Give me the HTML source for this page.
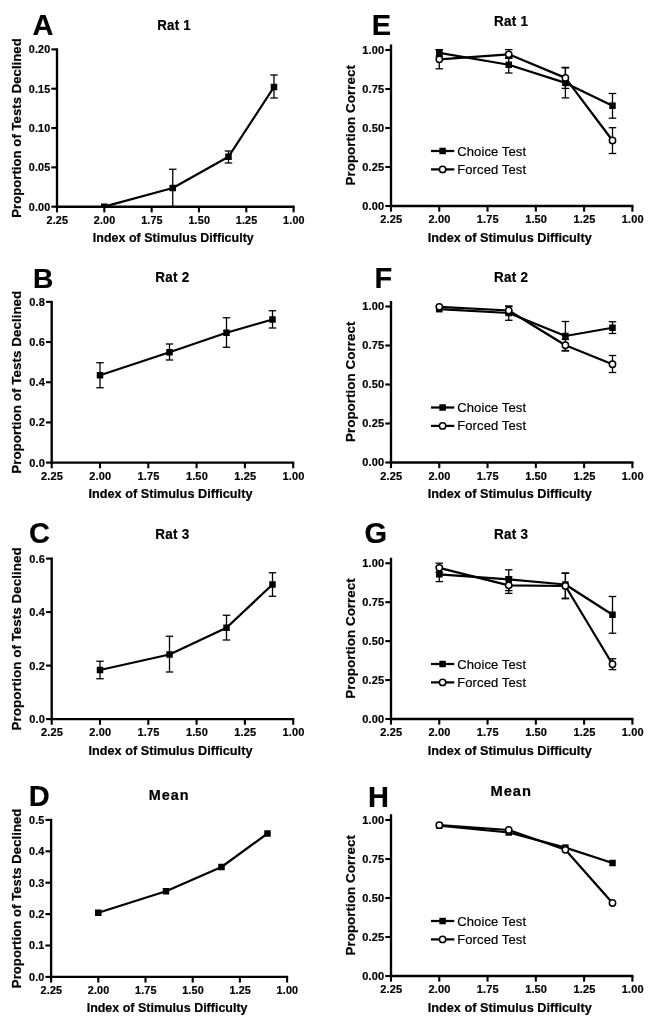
<!DOCTYPE html>
<html lang="en">
<head>
<meta charset="utf-8">
<title>Figure: proportion of tests declined and proportion correct</title>
<style>
html,body{margin:0;padding:0;background:#fff;}
body{width:656px;height:1024px;overflow:hidden;}
svg{display:block;filter:blur(0.4px);}
svg text{font-family:"Liberation Sans",sans-serif;fill:#000;stroke:#000;stroke-width:0.2px;stroke-linejoin:round;}
svg line,svg polyline,svg circle{stroke:#000;}
</style>
</head>
<body>
<svg width="656" height="1024" viewBox="0 0 656 1024">
<rect x="0" y="0" width="656" height="1024" fill="#fff" stroke="none"/>
<g id="panelA">
<g class="ax">
<line x1="57" y1="48.35" x2="57" y2="207.88" stroke-width="2.35" stroke-linecap="butt"/>
<line x1="55.83" y1="206.7" x2="294.65" y2="206.7" stroke-width="2.35" stroke-linecap="butt"/>
<line x1="51.33" y1="206.7" x2="57" y2="206.7" stroke-width="2.1" stroke-linecap="butt"/>
<text x="50.33" y="210.52" font-size="10.78" font-weight="bold" text-anchor="end" letter-spacing="0.15">0.00</text>
<line x1="51.33" y1="167.38" x2="57" y2="167.38" stroke-width="2.1" stroke-linecap="butt"/>
<text x="50.33" y="171.2" font-size="10.78" font-weight="bold" text-anchor="end" letter-spacing="0.15">0.05</text>
<line x1="51.33" y1="128.05" x2="57" y2="128.05" stroke-width="2.1" stroke-linecap="butt"/>
<text x="50.33" y="131.87" font-size="10.78" font-weight="bold" text-anchor="end" letter-spacing="0.15">0.10</text>
<line x1="51.33" y1="88.72" x2="57" y2="88.72" stroke-width="2.1" stroke-linecap="butt"/>
<text x="50.33" y="92.55" font-size="10.78" font-weight="bold" text-anchor="end" letter-spacing="0.15">0.15</text>
<line x1="51.33" y1="49.4" x2="57" y2="49.4" stroke-width="2.1" stroke-linecap="butt"/>
<text x="50.33" y="53.22" font-size="10.78" font-weight="bold" text-anchor="end" letter-spacing="0.15">0.20</text>
<line x1="57" y1="206.7" x2="57" y2="212.38" stroke-width="2.1" stroke-linecap="butt"/>
<text x="57.3" y="223.65" font-size="10.78" font-weight="bold" text-anchor="middle" letter-spacing="0.15">2.25</text>
<line x1="104.32" y1="206.7" x2="104.32" y2="212.38" stroke-width="2.1" stroke-linecap="butt"/>
<text x="104.62" y="223.65" font-size="10.78" font-weight="bold" text-anchor="middle" letter-spacing="0.15">2.00</text>
<line x1="151.64" y1="206.7" x2="151.64" y2="212.38" stroke-width="2.1" stroke-linecap="butt"/>
<text x="151.94" y="223.65" font-size="10.78" font-weight="bold" text-anchor="middle" letter-spacing="0.15">1.75</text>
<line x1="198.96" y1="206.7" x2="198.96" y2="212.38" stroke-width="2.1" stroke-linecap="butt"/>
<text x="199.26" y="223.65" font-size="10.78" font-weight="bold" text-anchor="middle" letter-spacing="0.15">1.50</text>
<line x1="246.28" y1="206.7" x2="246.28" y2="212.38" stroke-width="2.1" stroke-linecap="butt"/>
<text x="246.58" y="223.65" font-size="10.78" font-weight="bold" text-anchor="middle" letter-spacing="0.15">1.25</text>
<line x1="293.6" y1="206.7" x2="293.6" y2="212.38" stroke-width="2.1" stroke-linecap="butt"/>
<text x="293.9" y="223.65" font-size="10.78" font-weight="bold" text-anchor="middle" letter-spacing="0.15">1.00</text>
</g>
<text x="173.3" y="241.59" font-size="12.45" font-weight="bold" text-anchor="middle" letter-spacing="0.02">Index of Stimulus Difficulty</text>
<text x="20.9" y="128.05" font-size="13.13" font-weight="bold" text-anchor="middle" transform="rotate(-90 20.9 128.05)" letter-spacing="0.04">Proportion of Tests Declined</text>
<text transform="translate(174 30.12) scale(0.920 1)" font-size="14.41" font-weight="bold" text-anchor="middle" letter-spacing="0.25">Rat 1</text>
<text x="32.6" y="35.2" font-size="29" font-weight="bold" text-anchor="start" stroke="none">A</text>
<line x1="172.75" y1="169.25" x2="172.75" y2="206.7" stroke-width="1.3" stroke-linecap="butt"/>
<line x1="169" y1="169.25" x2="176.5" y2="169.25" stroke-width="1.3" stroke-linecap="butt"/>
<line x1="228.5" y1="151" x2="228.5" y2="163" stroke-width="1.3" stroke-linecap="butt"/>
<line x1="224.75" y1="151" x2="232.25" y2="151" stroke-width="1.3" stroke-linecap="butt"/>
<line x1="224.75" y1="163" x2="232.25" y2="163" stroke-width="1.3" stroke-linecap="butt"/>
<line x1="274" y1="75" x2="274" y2="98" stroke-width="1.3" stroke-linecap="butt"/>
<line x1="270.25" y1="75" x2="277.75" y2="75" stroke-width="1.3" stroke-linecap="butt"/>
<line x1="270.25" y1="98" x2="277.75" y2="98" stroke-width="1.3" stroke-linecap="butt"/>
<polyline fill="none" stroke-width="2.25" stroke-linejoin="round" points="104.2,206.7 172.75,188 228.5,156.75 274,87"/>
<rect x="101" y="203.5" width="6.6" height="3.2" fill="#000" stroke="none"/>
<rect x="169.5" y="184.75" width="6.5" height="6.5" fill="#000" stroke="none"/>
<rect x="225.25" y="153.5" width="6.5" height="6.5" fill="#000" stroke="none"/>
<rect x="270.75" y="83.75" width="6.5" height="6.5" fill="#000" stroke="none"/>
</g>
<g id="panelB">
<g class="ax">
<line x1="51.7" y1="300.85" x2="51.7" y2="463.78" stroke-width="2.35" stroke-linecap="butt"/>
<line x1="50.53" y1="462.6" x2="294.25" y2="462.6" stroke-width="2.35" stroke-linecap="butt"/>
<line x1="46.03" y1="462.6" x2="51.7" y2="462.6" stroke-width="2.1" stroke-linecap="butt"/>
<text x="45.03" y="466.5" font-size="11" font-weight="bold" text-anchor="end" letter-spacing="0.15">0.0</text>
<line x1="46.03" y1="422.43" x2="51.7" y2="422.43" stroke-width="2.1" stroke-linecap="butt"/>
<text x="45.03" y="426.32" font-size="11" font-weight="bold" text-anchor="end" letter-spacing="0.15">0.2</text>
<line x1="46.03" y1="382.25" x2="51.7" y2="382.25" stroke-width="2.1" stroke-linecap="butt"/>
<text x="45.03" y="386.15" font-size="11" font-weight="bold" text-anchor="end" letter-spacing="0.15">0.4</text>
<line x1="46.03" y1="342.07" x2="51.7" y2="342.07" stroke-width="2.1" stroke-linecap="butt"/>
<text x="45.03" y="345.97" font-size="11" font-weight="bold" text-anchor="end" letter-spacing="0.15">0.6</text>
<line x1="46.03" y1="301.9" x2="51.7" y2="301.9" stroke-width="2.1" stroke-linecap="butt"/>
<text x="45.03" y="305.8" font-size="11" font-weight="bold" text-anchor="end" letter-spacing="0.15">0.8</text>
<line x1="51.7" y1="462.6" x2="51.7" y2="468.28" stroke-width="2.1" stroke-linecap="butt"/>
<text x="52" y="479.9" font-size="11" font-weight="bold" text-anchor="middle" letter-spacing="0.15">2.25</text>
<line x1="100" y1="462.6" x2="100" y2="468.28" stroke-width="2.1" stroke-linecap="butt"/>
<text x="100.3" y="479.9" font-size="11" font-weight="bold" text-anchor="middle" letter-spacing="0.15">2.00</text>
<line x1="148.3" y1="462.6" x2="148.3" y2="468.28" stroke-width="2.1" stroke-linecap="butt"/>
<text x="148.6" y="479.9" font-size="11" font-weight="bold" text-anchor="middle" letter-spacing="0.15">1.75</text>
<line x1="196.6" y1="462.6" x2="196.6" y2="468.28" stroke-width="2.1" stroke-linecap="butt"/>
<text x="196.9" y="479.9" font-size="11" font-weight="bold" text-anchor="middle" letter-spacing="0.15">1.50</text>
<line x1="244.9" y1="462.6" x2="244.9" y2="468.28" stroke-width="2.1" stroke-linecap="butt"/>
<text x="245.2" y="479.9" font-size="11" font-weight="bold" text-anchor="middle" letter-spacing="0.15">1.25</text>
<line x1="293.2" y1="462.6" x2="293.2" y2="468.28" stroke-width="2.1" stroke-linecap="butt"/>
<text x="293.5" y="479.9" font-size="11" font-weight="bold" text-anchor="middle" letter-spacing="0.15">1.00</text>
</g>
<text x="170.45" y="498.2" font-size="12.7" font-weight="bold" text-anchor="middle" letter-spacing="0.02">Index of Stimulus Difficulty</text>
<text x="20.9" y="382.25" font-size="13.4" font-weight="bold" text-anchor="middle" transform="rotate(-90 20.9 382.25)" letter-spacing="0.04">Proportion of Tests Declined</text>
<text transform="translate(172.45 282.25) scale(0.920 1)" font-size="14.7" font-weight="bold" text-anchor="middle" letter-spacing="0.25">Rat 2</text>
<text x="33" y="287.9" font-size="28.2" font-weight="bold" text-anchor="start" stroke="none">B</text>
<line x1="100" y1="362.75" x2="100" y2="387.75" stroke-width="1.3" stroke-linecap="butt"/>
<line x1="96.25" y1="362.75" x2="103.75" y2="362.75" stroke-width="1.3" stroke-linecap="butt"/>
<line x1="96.25" y1="387.75" x2="103.75" y2="387.75" stroke-width="1.3" stroke-linecap="butt"/>
<line x1="169.5" y1="344" x2="169.5" y2="360" stroke-width="1.3" stroke-linecap="butt"/>
<line x1="165.75" y1="344" x2="173.25" y2="344" stroke-width="1.3" stroke-linecap="butt"/>
<line x1="165.75" y1="360" x2="173.25" y2="360" stroke-width="1.3" stroke-linecap="butt"/>
<line x1="226.5" y1="317.75" x2="226.5" y2="347.25" stroke-width="1.3" stroke-linecap="butt"/>
<line x1="222.75" y1="317.75" x2="230.25" y2="317.75" stroke-width="1.3" stroke-linecap="butt"/>
<line x1="222.75" y1="347.25" x2="230.25" y2="347.25" stroke-width="1.3" stroke-linecap="butt"/>
<line x1="272.5" y1="310.75" x2="272.5" y2="328" stroke-width="1.3" stroke-linecap="butt"/>
<line x1="268.75" y1="310.75" x2="276.25" y2="310.75" stroke-width="1.3" stroke-linecap="butt"/>
<line x1="268.75" y1="328" x2="276.25" y2="328" stroke-width="1.3" stroke-linecap="butt"/>
<polyline fill="none" stroke-width="2.25" stroke-linejoin="round" points="100,375.25 169.5,352.25 226.5,332.75 272.5,319.5"/>
<rect x="96.75" y="372" width="6.5" height="6.5" fill="#000" stroke="none"/>
<rect x="166.25" y="349" width="6.5" height="6.5" fill="#000" stroke="none"/>
<rect x="223.25" y="329.5" width="6.5" height="6.5" fill="#000" stroke="none"/>
<rect x="269.25" y="316.25" width="6.5" height="6.5" fill="#000" stroke="none"/>
</g>
<g id="panelC">
<g class="ax">
<line x1="51.7" y1="557.55" x2="51.7" y2="720.27" stroke-width="2.35" stroke-linecap="butt"/>
<line x1="50.53" y1="719.1" x2="294.25" y2="719.1" stroke-width="2.35" stroke-linecap="butt"/>
<line x1="46.03" y1="719.1" x2="51.7" y2="719.1" stroke-width="2.1" stroke-linecap="butt"/>
<text x="45.03" y="723" font-size="11" font-weight="bold" text-anchor="end" letter-spacing="0.15">0.0</text>
<line x1="46.03" y1="665.6" x2="51.7" y2="665.6" stroke-width="2.1" stroke-linecap="butt"/>
<text x="45.03" y="669.5" font-size="11" font-weight="bold" text-anchor="end" letter-spacing="0.15">0.2</text>
<line x1="46.03" y1="612.1" x2="51.7" y2="612.1" stroke-width="2.1" stroke-linecap="butt"/>
<text x="45.03" y="616" font-size="11" font-weight="bold" text-anchor="end" letter-spacing="0.15">0.4</text>
<line x1="46.03" y1="558.6" x2="51.7" y2="558.6" stroke-width="2.1" stroke-linecap="butt"/>
<text x="45.03" y="562.5" font-size="11" font-weight="bold" text-anchor="end" letter-spacing="0.15">0.6</text>
<line x1="51.7" y1="719.1" x2="51.7" y2="724.77" stroke-width="2.1" stroke-linecap="butt"/>
<text x="52" y="736.4" font-size="11" font-weight="bold" text-anchor="middle" letter-spacing="0.15">2.25</text>
<line x1="100" y1="719.1" x2="100" y2="724.77" stroke-width="2.1" stroke-linecap="butt"/>
<text x="100.3" y="736.4" font-size="11" font-weight="bold" text-anchor="middle" letter-spacing="0.15">2.00</text>
<line x1="148.3" y1="719.1" x2="148.3" y2="724.77" stroke-width="2.1" stroke-linecap="butt"/>
<text x="148.6" y="736.4" font-size="11" font-weight="bold" text-anchor="middle" letter-spacing="0.15">1.75</text>
<line x1="196.6" y1="719.1" x2="196.6" y2="724.77" stroke-width="2.1" stroke-linecap="butt"/>
<text x="196.9" y="736.4" font-size="11" font-weight="bold" text-anchor="middle" letter-spacing="0.15">1.50</text>
<line x1="244.9" y1="719.1" x2="244.9" y2="724.77" stroke-width="2.1" stroke-linecap="butt"/>
<text x="245.2" y="736.4" font-size="11" font-weight="bold" text-anchor="middle" letter-spacing="0.15">1.25</text>
<line x1="293.2" y1="719.1" x2="293.2" y2="724.77" stroke-width="2.1" stroke-linecap="butt"/>
<text x="293.5" y="736.4" font-size="11" font-weight="bold" text-anchor="middle" letter-spacing="0.15">1.00</text>
</g>
<text x="170.45" y="754.7" font-size="12.7" font-weight="bold" text-anchor="middle" letter-spacing="0.02">Index of Stimulus Difficulty</text>
<text x="20.9" y="638.85" font-size="13.4" font-weight="bold" text-anchor="middle" transform="rotate(-90 20.9 638.85)" letter-spacing="0.04">Proportion of Tests Declined</text>
<text transform="translate(172.45 538.95) scale(0.920 1)" font-size="14.7" font-weight="bold" text-anchor="middle" letter-spacing="0.25">Rat 3</text>
<text x="29" y="543" font-size="29" font-weight="bold" text-anchor="start" stroke="none">C</text>
<line x1="100" y1="661.25" x2="100" y2="678.75" stroke-width="1.3" stroke-linecap="butt"/>
<line x1="96.25" y1="661.25" x2="103.75" y2="661.25" stroke-width="1.3" stroke-linecap="butt"/>
<line x1="96.25" y1="678.75" x2="103.75" y2="678.75" stroke-width="1.3" stroke-linecap="butt"/>
<line x1="169.5" y1="636.25" x2="169.5" y2="672" stroke-width="1.3" stroke-linecap="butt"/>
<line x1="165.75" y1="636.25" x2="173.25" y2="636.25" stroke-width="1.3" stroke-linecap="butt"/>
<line x1="165.75" y1="672" x2="173.25" y2="672" stroke-width="1.3" stroke-linecap="butt"/>
<line x1="226.5" y1="615.25" x2="226.5" y2="640" stroke-width="1.3" stroke-linecap="butt"/>
<line x1="222.75" y1="615.25" x2="230.25" y2="615.25" stroke-width="1.3" stroke-linecap="butt"/>
<line x1="222.75" y1="640" x2="230.25" y2="640" stroke-width="1.3" stroke-linecap="butt"/>
<line x1="272.5" y1="572.75" x2="272.5" y2="596.25" stroke-width="1.3" stroke-linecap="butt"/>
<line x1="268.75" y1="572.75" x2="276.25" y2="572.75" stroke-width="1.3" stroke-linecap="butt"/>
<line x1="268.75" y1="596.25" x2="276.25" y2="596.25" stroke-width="1.3" stroke-linecap="butt"/>
<polyline fill="none" stroke-width="2.25" stroke-linejoin="round" points="100,670 169.5,654.5 226.5,627.75 272.5,584.5"/>
<rect x="96.75" y="666.75" width="6.5" height="6.5" fill="#000" stroke="none"/>
<rect x="166.25" y="651.25" width="6.5" height="6.5" fill="#000" stroke="none"/>
<rect x="223.25" y="624.5" width="6.5" height="6.5" fill="#000" stroke="none"/>
<rect x="269.25" y="581.25" width="6.5" height="6.5" fill="#000" stroke="none"/>
</g>
<g id="panelD">
<g class="ax">
<line x1="51.1" y1="818.85" x2="51.1" y2="978.07" stroke-width="2.35" stroke-linecap="butt"/>
<line x1="49.93" y1="976.9" x2="288.15" y2="976.9" stroke-width="2.35" stroke-linecap="butt"/>
<line x1="45.43" y1="976.9" x2="51.1" y2="976.9" stroke-width="2.1" stroke-linecap="butt"/>
<text x="44.43" y="980.72" font-size="10.78" font-weight="bold" text-anchor="end" letter-spacing="0.15">0.0</text>
<line x1="45.43" y1="945.5" x2="51.1" y2="945.5" stroke-width="2.1" stroke-linecap="butt"/>
<text x="44.43" y="949.32" font-size="10.78" font-weight="bold" text-anchor="end" letter-spacing="0.15">0.1</text>
<line x1="45.43" y1="914.1" x2="51.1" y2="914.1" stroke-width="2.1" stroke-linecap="butt"/>
<text x="44.43" y="917.92" font-size="10.78" font-weight="bold" text-anchor="end" letter-spacing="0.15">0.2</text>
<line x1="45.43" y1="882.7" x2="51.1" y2="882.7" stroke-width="2.1" stroke-linecap="butt"/>
<text x="44.43" y="886.52" font-size="10.78" font-weight="bold" text-anchor="end" letter-spacing="0.15">0.3</text>
<line x1="45.43" y1="851.3" x2="51.1" y2="851.3" stroke-width="2.1" stroke-linecap="butt"/>
<text x="44.43" y="855.12" font-size="10.78" font-weight="bold" text-anchor="end" letter-spacing="0.15">0.4</text>
<line x1="45.43" y1="819.9" x2="51.1" y2="819.9" stroke-width="2.1" stroke-linecap="butt"/>
<text x="44.43" y="823.72" font-size="10.78" font-weight="bold" text-anchor="end" letter-spacing="0.15">0.5</text>
<line x1="51.1" y1="976.9" x2="51.1" y2="982.57" stroke-width="2.1" stroke-linecap="butt"/>
<text x="51.4" y="993.85" font-size="10.78" font-weight="bold" text-anchor="middle" letter-spacing="0.15">2.25</text>
<line x1="98.3" y1="976.9" x2="98.3" y2="982.57" stroke-width="2.1" stroke-linecap="butt"/>
<text x="98.6" y="993.85" font-size="10.78" font-weight="bold" text-anchor="middle" letter-spacing="0.15">2.00</text>
<line x1="145.5" y1="976.9" x2="145.5" y2="982.57" stroke-width="2.1" stroke-linecap="butt"/>
<text x="145.8" y="993.85" font-size="10.78" font-weight="bold" text-anchor="middle" letter-spacing="0.15">1.75</text>
<line x1="192.7" y1="976.9" x2="192.7" y2="982.57" stroke-width="2.1" stroke-linecap="butt"/>
<text x="193" y="993.85" font-size="10.78" font-weight="bold" text-anchor="middle" letter-spacing="0.15">1.50</text>
<line x1="239.9" y1="976.9" x2="239.9" y2="982.57" stroke-width="2.1" stroke-linecap="butt"/>
<text x="240.2" y="993.85" font-size="10.78" font-weight="bold" text-anchor="middle" letter-spacing="0.15">1.25</text>
<line x1="287.1" y1="976.9" x2="287.1" y2="982.57" stroke-width="2.1" stroke-linecap="butt"/>
<text x="287.4" y="993.85" font-size="10.78" font-weight="bold" text-anchor="middle" letter-spacing="0.15">1.00</text>
</g>
<text x="167.1" y="1011.79" font-size="12.45" font-weight="bold" text-anchor="middle" letter-spacing="0.02">Index of Stimulus Difficulty</text>
<text x="20.9" y="898.4" font-size="13.13" font-weight="bold" text-anchor="middle" transform="rotate(-90 20.9 898.4)" letter-spacing="0.04">Proportion of Tests Declined</text>
<text x="169.1" y="799.82" font-size="14.41" font-weight="bold" text-anchor="middle" letter-spacing="0.95">Mean</text>
<text x="28.8" y="805.8" font-size="29" font-weight="bold" text-anchor="start" stroke="none">D</text>
<polyline fill="none" stroke-width="2.25" stroke-linejoin="round" points="98.25,912.75 166,891.25 221.5,867 267.5,833.5"/>
<rect x="95" y="909.5" width="6.5" height="6.5" fill="#000" stroke="none"/>
<rect x="162.75" y="888" width="6.5" height="6.5" fill="#000" stroke="none"/>
<rect x="218.25" y="863.75" width="6.5" height="6.5" fill="#000" stroke="none"/>
<rect x="264.25" y="830.25" width="6.5" height="6.5" fill="#000" stroke="none"/>
</g>
<g id="panelE">
<g class="ax">
<line x1="391" y1="44.5" x2="391" y2="207.18" stroke-width="2.35" stroke-linecap="butt"/>
<line x1="389.82" y1="206" x2="633.45" y2="206" stroke-width="2.35" stroke-linecap="butt"/>
<line x1="385.32" y1="206" x2="391" y2="206" stroke-width="2.1" stroke-linecap="butt"/>
<text x="384.32" y="209.9" font-size="11" font-weight="bold" text-anchor="end" letter-spacing="0.15">0.00</text>
<line x1="385.32" y1="167" x2="391" y2="167" stroke-width="2.1" stroke-linecap="butt"/>
<text x="384.32" y="170.9" font-size="11" font-weight="bold" text-anchor="end" letter-spacing="0.15">0.25</text>
<line x1="385.32" y1="128" x2="391" y2="128" stroke-width="2.1" stroke-linecap="butt"/>
<text x="384.32" y="131.9" font-size="11" font-weight="bold" text-anchor="end" letter-spacing="0.15">0.50</text>
<line x1="385.32" y1="89" x2="391" y2="89" stroke-width="2.1" stroke-linecap="butt"/>
<text x="384.32" y="92.9" font-size="11" font-weight="bold" text-anchor="end" letter-spacing="0.15">0.75</text>
<line x1="385.32" y1="50" x2="391" y2="50" stroke-width="2.1" stroke-linecap="butt"/>
<text x="384.32" y="53.9" font-size="11" font-weight="bold" text-anchor="end" letter-spacing="0.15">1.00</text>
<line x1="391" y1="206" x2="391" y2="211.68" stroke-width="2.1" stroke-linecap="butt"/>
<text x="391.3" y="223.3" font-size="11" font-weight="bold" text-anchor="middle" letter-spacing="0.15">2.25</text>
<line x1="439.28" y1="206" x2="439.28" y2="211.68" stroke-width="2.1" stroke-linecap="butt"/>
<text x="439.58" y="223.3" font-size="11" font-weight="bold" text-anchor="middle" letter-spacing="0.15">2.00</text>
<line x1="487.56" y1="206" x2="487.56" y2="211.68" stroke-width="2.1" stroke-linecap="butt"/>
<text x="487.86" y="223.3" font-size="11" font-weight="bold" text-anchor="middle" letter-spacing="0.15">1.75</text>
<line x1="535.84" y1="206" x2="535.84" y2="211.68" stroke-width="2.1" stroke-linecap="butt"/>
<text x="536.14" y="223.3" font-size="11" font-weight="bold" text-anchor="middle" letter-spacing="0.15">1.50</text>
<line x1="584.12" y1="206" x2="584.12" y2="211.68" stroke-width="2.1" stroke-linecap="butt"/>
<text x="584.42" y="223.3" font-size="11" font-weight="bold" text-anchor="middle" letter-spacing="0.15">1.25</text>
<line x1="632.4" y1="206" x2="632.4" y2="211.68" stroke-width="2.1" stroke-linecap="butt"/>
<text x="632.7" y="223.3" font-size="11" font-weight="bold" text-anchor="middle" letter-spacing="0.15">1.00</text>
</g>
<text x="509.7" y="241.6" font-size="12.7" font-weight="bold" text-anchor="middle" letter-spacing="0.02">Index of Stimulus Difficulty</text>
<text x="354.6" y="125.3" font-size="13.4" font-weight="bold" text-anchor="middle" transform="rotate(-90 354.6 125.3)" letter-spacing="0.04">Proportion Correct</text>
<text transform="translate(511.2 25.9) scale(0.920 1)" font-size="14.7" font-weight="bold" text-anchor="middle" letter-spacing="0.25">Rat 1</text>
<text x="371.8" y="35.2" font-size="29" font-weight="bold" text-anchor="start" stroke="none">E</text>
<line x1="431" y1="151" x2="454.3" y2="151" stroke-width="2.25" stroke-linecap="butt"/>
<rect x="439.35" y="147.75" width="6.5" height="6.5" fill="#000" stroke="none"/>
<text x="457.2" y="155.5" font-size="13" font-weight="normal" text-anchor="start" stroke="none" letter-spacing="0.12">Choice Test</text>
<line x1="431" y1="169.4" x2="454.3" y2="169.4" stroke-width="2.25" stroke-linecap="butt"/>
<circle cx="442.6" cy="169.4" r="3.15" fill="#fff" stroke-width="1.5"/>
<text x="457.2" y="173.9" font-size="13" font-weight="normal" text-anchor="start" stroke="none" letter-spacing="0.12">Forced Test</text>
<line x1="439.3" y1="49.6" x2="439.3" y2="56.2" stroke-width="1.3" stroke-linecap="butt"/>
<line x1="435.55" y1="49.6" x2="443.05" y2="49.6" stroke-width="1.3" stroke-linecap="butt"/>
<line x1="435.55" y1="56.2" x2="443.05" y2="56.2" stroke-width="1.3" stroke-linecap="butt"/>
<line x1="508.75" y1="57.5" x2="508.75" y2="73" stroke-width="1.3" stroke-linecap="butt"/>
<line x1="505" y1="57.5" x2="512.5" y2="57.5" stroke-width="1.3" stroke-linecap="butt"/>
<line x1="505" y1="73" x2="512.5" y2="73" stroke-width="1.3" stroke-linecap="butt"/>
<line x1="565.4" y1="67.9" x2="565.4" y2="97.9" stroke-width="1.3" stroke-linecap="butt"/>
<line x1="561.65" y1="67.9" x2="569.15" y2="67.9" stroke-width="1.3" stroke-linecap="butt"/>
<line x1="561.65" y1="97.9" x2="569.15" y2="97.9" stroke-width="1.3" stroke-linecap="butt"/>
<line x1="612.5" y1="93.5" x2="612.5" y2="118.2" stroke-width="1.3" stroke-linecap="butt"/>
<line x1="608.75" y1="93.5" x2="616.25" y2="93.5" stroke-width="1.3" stroke-linecap="butt"/>
<line x1="608.75" y1="118.2" x2="616.25" y2="118.2" stroke-width="1.3" stroke-linecap="butt"/>
<polyline fill="none" stroke-width="2.25" stroke-linejoin="round" points="439.3,52.9 508.75,64.75 565.4,82.9 612.5,105.7"/>
<rect x="436.05" y="49.65" width="6.5" height="6.5" fill="#000" stroke="none"/>
<rect x="505.5" y="61.5" width="6.5" height="6.5" fill="#000" stroke="none"/>
<rect x="562.15" y="79.65" width="6.5" height="6.5" fill="#000" stroke="none"/>
<rect x="609.25" y="102.45" width="6.5" height="6.5" fill="#000" stroke="none"/>
<line x1="439.3" y1="49.8" x2="439.3" y2="68.8" stroke-width="1.3" stroke-linecap="butt"/>
<line x1="435.55" y1="49.8" x2="443.05" y2="49.8" stroke-width="1.3" stroke-linecap="butt"/>
<line x1="435.55" y1="68.8" x2="443.05" y2="68.8" stroke-width="1.3" stroke-linecap="butt"/>
<line x1="508.75" y1="49.6" x2="508.75" y2="58.4" stroke-width="1.3" stroke-linecap="butt"/>
<line x1="505" y1="49.6" x2="512.5" y2="49.6" stroke-width="1.3" stroke-linecap="butt"/>
<line x1="505" y1="58.4" x2="512.5" y2="58.4" stroke-width="1.3" stroke-linecap="butt"/>
<line x1="565.4" y1="67.4" x2="565.4" y2="88.4" stroke-width="1.3" stroke-linecap="butt"/>
<line x1="561.65" y1="67.4" x2="569.15" y2="67.4" stroke-width="1.3" stroke-linecap="butt"/>
<line x1="561.65" y1="88.4" x2="569.15" y2="88.4" stroke-width="1.3" stroke-linecap="butt"/>
<line x1="612.5" y1="127.7" x2="612.5" y2="153.5" stroke-width="1.3" stroke-linecap="butt"/>
<line x1="608.75" y1="127.7" x2="616.25" y2="127.7" stroke-width="1.3" stroke-linecap="butt"/>
<line x1="608.75" y1="153.5" x2="616.25" y2="153.5" stroke-width="1.3" stroke-linecap="butt"/>
<polyline fill="none" stroke-width="2.25" stroke-linejoin="round" points="439.3,59.3 508.75,54.3 565.4,77.9 612.5,140.5"/>
<circle cx="439.3" cy="59.3" r="3.15" fill="#fff" stroke-width="1.5"/>
<circle cx="508.75" cy="54.3" r="3.15" fill="#fff" stroke-width="1.5"/>
<circle cx="565.4" cy="77.9" r="3.15" fill="#fff" stroke-width="1.5"/>
<circle cx="612.5" cy="140.5" r="3.15" fill="#fff" stroke-width="1.5"/>
</g>
<g id="panelF">
<g class="ax">
<line x1="391" y1="301" x2="391" y2="463.68" stroke-width="2.35" stroke-linecap="butt"/>
<line x1="389.82" y1="462.5" x2="633.45" y2="462.5" stroke-width="2.35" stroke-linecap="butt"/>
<line x1="385.32" y1="462.5" x2="391" y2="462.5" stroke-width="2.1" stroke-linecap="butt"/>
<text x="384.32" y="466.4" font-size="11" font-weight="bold" text-anchor="end" letter-spacing="0.15">0.00</text>
<line x1="385.32" y1="423.5" x2="391" y2="423.5" stroke-width="2.1" stroke-linecap="butt"/>
<text x="384.32" y="427.4" font-size="11" font-weight="bold" text-anchor="end" letter-spacing="0.15">0.25</text>
<line x1="385.32" y1="384.5" x2="391" y2="384.5" stroke-width="2.1" stroke-linecap="butt"/>
<text x="384.32" y="388.4" font-size="11" font-weight="bold" text-anchor="end" letter-spacing="0.15">0.50</text>
<line x1="385.32" y1="345.5" x2="391" y2="345.5" stroke-width="2.1" stroke-linecap="butt"/>
<text x="384.32" y="349.4" font-size="11" font-weight="bold" text-anchor="end" letter-spacing="0.15">0.75</text>
<line x1="385.32" y1="306.5" x2="391" y2="306.5" stroke-width="2.1" stroke-linecap="butt"/>
<text x="384.32" y="310.4" font-size="11" font-weight="bold" text-anchor="end" letter-spacing="0.15">1.00</text>
<line x1="391" y1="462.5" x2="391" y2="468.18" stroke-width="2.1" stroke-linecap="butt"/>
<text x="391.3" y="479.8" font-size="11" font-weight="bold" text-anchor="middle" letter-spacing="0.15">2.25</text>
<line x1="439.28" y1="462.5" x2="439.28" y2="468.18" stroke-width="2.1" stroke-linecap="butt"/>
<text x="439.58" y="479.8" font-size="11" font-weight="bold" text-anchor="middle" letter-spacing="0.15">2.00</text>
<line x1="487.56" y1="462.5" x2="487.56" y2="468.18" stroke-width="2.1" stroke-linecap="butt"/>
<text x="487.86" y="479.8" font-size="11" font-weight="bold" text-anchor="middle" letter-spacing="0.15">1.75</text>
<line x1="535.84" y1="462.5" x2="535.84" y2="468.18" stroke-width="2.1" stroke-linecap="butt"/>
<text x="536.14" y="479.8" font-size="11" font-weight="bold" text-anchor="middle" letter-spacing="0.15">1.50</text>
<line x1="584.12" y1="462.5" x2="584.12" y2="468.18" stroke-width="2.1" stroke-linecap="butt"/>
<text x="584.42" y="479.8" font-size="11" font-weight="bold" text-anchor="middle" letter-spacing="0.15">1.25</text>
<line x1="632.4" y1="462.5" x2="632.4" y2="468.18" stroke-width="2.1" stroke-linecap="butt"/>
<text x="632.7" y="479.8" font-size="11" font-weight="bold" text-anchor="middle" letter-spacing="0.15">1.00</text>
</g>
<text x="509.7" y="498.1" font-size="12.7" font-weight="bold" text-anchor="middle" letter-spacing="0.02">Index of Stimulus Difficulty</text>
<text x="354.6" y="381.8" font-size="13.4" font-weight="bold" text-anchor="middle" transform="rotate(-90 354.6 381.8)" letter-spacing="0.04">Proportion Correct</text>
<text transform="translate(511.2 282.4) scale(0.920 1)" font-size="14.7" font-weight="bold" text-anchor="middle" letter-spacing="0.25">Rat 2</text>
<text x="374.4" y="287.9" font-size="29" font-weight="bold" text-anchor="start" stroke="none">F</text>
<line x1="431" y1="407.5" x2="454.3" y2="407.5" stroke-width="2.25" stroke-linecap="butt"/>
<rect x="439.35" y="404.25" width="6.5" height="6.5" fill="#000" stroke="none"/>
<text x="457.2" y="412" font-size="13" font-weight="normal" text-anchor="start" stroke="none" letter-spacing="0.12">Choice Test</text>
<line x1="431" y1="425.9" x2="454.3" y2="425.9" stroke-width="2.25" stroke-linecap="butt"/>
<circle cx="442.6" cy="425.9" r="3.15" fill="#fff" stroke-width="1.5"/>
<text x="457.2" y="430.4" font-size="13" font-weight="normal" text-anchor="start" stroke="none" letter-spacing="0.12">Forced Test</text>
<line x1="508.75" y1="306" x2="508.75" y2="320.3" stroke-width="1.3" stroke-linecap="butt"/>
<line x1="505" y1="306" x2="512.5" y2="306" stroke-width="1.3" stroke-linecap="butt"/>
<line x1="505" y1="320.3" x2="512.5" y2="320.3" stroke-width="1.3" stroke-linecap="butt"/>
<line x1="565.4" y1="321.5" x2="565.4" y2="350.5" stroke-width="1.3" stroke-linecap="butt"/>
<line x1="561.65" y1="321.5" x2="569.15" y2="321.5" stroke-width="1.3" stroke-linecap="butt"/>
<line x1="561.65" y1="350.5" x2="569.15" y2="350.5" stroke-width="1.3" stroke-linecap="butt"/>
<line x1="612.5" y1="321.75" x2="612.5" y2="333.5" stroke-width="1.3" stroke-linecap="butt"/>
<line x1="608.75" y1="321.75" x2="616.25" y2="321.75" stroke-width="1.3" stroke-linecap="butt"/>
<line x1="608.75" y1="333.5" x2="616.25" y2="333.5" stroke-width="1.3" stroke-linecap="butt"/>
<polyline fill="none" stroke-width="2.25" stroke-linejoin="round" points="439.3,309.2 508.75,313 565.4,336 612.5,327.75"/>
<rect x="436.05" y="305.95" width="6.5" height="6.5" fill="#000" stroke="none"/>
<rect x="505.5" y="309.75" width="6.5" height="6.5" fill="#000" stroke="none"/>
<rect x="562.15" y="332.75" width="6.5" height="6.5" fill="#000" stroke="none"/>
<rect x="609.25" y="324.5" width="6.5" height="6.5" fill="#000" stroke="none"/>
<line x1="508.75" y1="306.5" x2="508.75" y2="314.5" stroke-width="1.3" stroke-linecap="butt"/>
<line x1="505" y1="306.5" x2="512.5" y2="306.5" stroke-width="1.3" stroke-linecap="butt"/>
<line x1="505" y1="314.5" x2="512.5" y2="314.5" stroke-width="1.3" stroke-linecap="butt"/>
<line x1="565.4" y1="339.5" x2="565.4" y2="351" stroke-width="1.3" stroke-linecap="butt"/>
<line x1="561.65" y1="339.5" x2="569.15" y2="339.5" stroke-width="1.3" stroke-linecap="butt"/>
<line x1="561.65" y1="351" x2="569.15" y2="351" stroke-width="1.3" stroke-linecap="butt"/>
<line x1="612.5" y1="355.5" x2="612.5" y2="372.5" stroke-width="1.3" stroke-linecap="butt"/>
<line x1="608.75" y1="355.5" x2="616.25" y2="355.5" stroke-width="1.3" stroke-linecap="butt"/>
<line x1="608.75" y1="372.5" x2="616.25" y2="372.5" stroke-width="1.3" stroke-linecap="butt"/>
<polyline fill="none" stroke-width="2.25" stroke-linejoin="round" points="439.3,306.8 508.75,310.5 565.4,345.25 612.5,364.25"/>
<circle cx="439.3" cy="306.8" r="3.15" fill="#fff" stroke-width="1.5"/>
<circle cx="508.75" cy="310.5" r="3.15" fill="#fff" stroke-width="1.5"/>
<circle cx="565.4" cy="345.25" r="3.15" fill="#fff" stroke-width="1.5"/>
<circle cx="612.5" cy="364.25" r="3.15" fill="#fff" stroke-width="1.5"/>
</g>
<g id="panelG">
<g class="ax">
<line x1="391" y1="557.75" x2="391" y2="720.17" stroke-width="2.35" stroke-linecap="butt"/>
<line x1="389.82" y1="719" x2="633.45" y2="719" stroke-width="2.35" stroke-linecap="butt"/>
<line x1="385.32" y1="719" x2="391" y2="719" stroke-width="2.1" stroke-linecap="butt"/>
<text x="384.32" y="722.9" font-size="11" font-weight="bold" text-anchor="end" letter-spacing="0.15">0.00</text>
<line x1="385.32" y1="680.06" x2="391" y2="680.06" stroke-width="2.1" stroke-linecap="butt"/>
<text x="384.32" y="683.96" font-size="11" font-weight="bold" text-anchor="end" letter-spacing="0.15">0.25</text>
<line x1="385.32" y1="641.12" x2="391" y2="641.12" stroke-width="2.1" stroke-linecap="butt"/>
<text x="384.32" y="645.02" font-size="11" font-weight="bold" text-anchor="end" letter-spacing="0.15">0.50</text>
<line x1="385.32" y1="602.19" x2="391" y2="602.19" stroke-width="2.1" stroke-linecap="butt"/>
<text x="384.32" y="606.09" font-size="11" font-weight="bold" text-anchor="end" letter-spacing="0.15">0.75</text>
<line x1="385.32" y1="563.25" x2="391" y2="563.25" stroke-width="2.1" stroke-linecap="butt"/>
<text x="384.32" y="567.15" font-size="11" font-weight="bold" text-anchor="end" letter-spacing="0.15">1.00</text>
<line x1="391" y1="719" x2="391" y2="724.67" stroke-width="2.1" stroke-linecap="butt"/>
<text x="391.3" y="736.3" font-size="11" font-weight="bold" text-anchor="middle" letter-spacing="0.15">2.25</text>
<line x1="439.28" y1="719" x2="439.28" y2="724.67" stroke-width="2.1" stroke-linecap="butt"/>
<text x="439.58" y="736.3" font-size="11" font-weight="bold" text-anchor="middle" letter-spacing="0.15">2.00</text>
<line x1="487.56" y1="719" x2="487.56" y2="724.67" stroke-width="2.1" stroke-linecap="butt"/>
<text x="487.86" y="736.3" font-size="11" font-weight="bold" text-anchor="middle" letter-spacing="0.15">1.75</text>
<line x1="535.84" y1="719" x2="535.84" y2="724.67" stroke-width="2.1" stroke-linecap="butt"/>
<text x="536.14" y="736.3" font-size="11" font-weight="bold" text-anchor="middle" letter-spacing="0.15">1.50</text>
<line x1="584.12" y1="719" x2="584.12" y2="724.67" stroke-width="2.1" stroke-linecap="butt"/>
<text x="584.42" y="736.3" font-size="11" font-weight="bold" text-anchor="middle" letter-spacing="0.15">1.25</text>
<line x1="632.4" y1="719" x2="632.4" y2="724.67" stroke-width="2.1" stroke-linecap="butt"/>
<text x="632.7" y="736.3" font-size="11" font-weight="bold" text-anchor="middle" letter-spacing="0.15">1.00</text>
</g>
<text x="509.7" y="754.6" font-size="12.7" font-weight="bold" text-anchor="middle" letter-spacing="0.02">Index of Stimulus Difficulty</text>
<text x="354.6" y="638.42" font-size="13.4" font-weight="bold" text-anchor="middle" transform="rotate(-90 354.6 638.42)" letter-spacing="0.04">Proportion Correct</text>
<text transform="translate(511.2 539.15) scale(0.920 1)" font-size="14.7" font-weight="bold" text-anchor="middle" letter-spacing="0.25">Rat 3</text>
<text x="364.6" y="543" font-size="29" font-weight="bold" text-anchor="start" stroke="none">G</text>
<line x1="431" y1="664" x2="454.3" y2="664" stroke-width="2.25" stroke-linecap="butt"/>
<rect x="439.35" y="660.75" width="6.5" height="6.5" fill="#000" stroke="none"/>
<text x="457.2" y="668.5" font-size="13" font-weight="normal" text-anchor="start" stroke="none" letter-spacing="0.12">Choice Test</text>
<line x1="431" y1="682.4" x2="454.3" y2="682.4" stroke-width="2.25" stroke-linecap="butt"/>
<circle cx="442.6" cy="682.4" r="3.15" fill="#fff" stroke-width="1.5"/>
<text x="457.2" y="686.9" font-size="13" font-weight="normal" text-anchor="start" stroke="none" letter-spacing="0.12">Forced Test</text>
<line x1="439.3" y1="567" x2="439.3" y2="581.6" stroke-width="1.3" stroke-linecap="butt"/>
<line x1="435.55" y1="567" x2="443.05" y2="567" stroke-width="1.3" stroke-linecap="butt"/>
<line x1="435.55" y1="581.6" x2="443.05" y2="581.6" stroke-width="1.3" stroke-linecap="butt"/>
<line x1="508.75" y1="569.8" x2="508.75" y2="590.6" stroke-width="1.3" stroke-linecap="butt"/>
<line x1="505" y1="569.8" x2="512.5" y2="569.8" stroke-width="1.3" stroke-linecap="butt"/>
<line x1="505" y1="590.6" x2="512.5" y2="590.6" stroke-width="1.3" stroke-linecap="butt"/>
<line x1="565.4" y1="573" x2="565.4" y2="598.2" stroke-width="1.3" stroke-linecap="butt"/>
<line x1="561.65" y1="573" x2="569.15" y2="573" stroke-width="1.3" stroke-linecap="butt"/>
<line x1="561.65" y1="598.2" x2="569.15" y2="598.2" stroke-width="1.3" stroke-linecap="butt"/>
<line x1="612.5" y1="596.5" x2="612.5" y2="633.25" stroke-width="1.3" stroke-linecap="butt"/>
<line x1="608.75" y1="596.5" x2="616.25" y2="596.5" stroke-width="1.3" stroke-linecap="butt"/>
<line x1="608.75" y1="633.25" x2="616.25" y2="633.25" stroke-width="1.3" stroke-linecap="butt"/>
<polyline fill="none" stroke-width="2.25" stroke-linejoin="round" points="439.3,574.3 508.75,579.4 565.4,584.5 612.5,614.75"/>
<rect x="436.05" y="571.05" width="6.5" height="6.5" fill="#000" stroke="none"/>
<rect x="505.5" y="576.15" width="6.5" height="6.5" fill="#000" stroke="none"/>
<rect x="562.15" y="581.25" width="6.5" height="6.5" fill="#000" stroke="none"/>
<rect x="609.25" y="611.5" width="6.5" height="6.5" fill="#000" stroke="none"/>
<line x1="439.3" y1="563.2" x2="439.3" y2="572.4" stroke-width="1.3" stroke-linecap="butt"/>
<line x1="435.55" y1="563.2" x2="443.05" y2="563.2" stroke-width="1.3" stroke-linecap="butt"/>
<line x1="435.55" y1="572.4" x2="443.05" y2="572.4" stroke-width="1.3" stroke-linecap="butt"/>
<line x1="508.75" y1="577" x2="508.75" y2="593.4" stroke-width="1.3" stroke-linecap="butt"/>
<line x1="505" y1="577" x2="512.5" y2="577" stroke-width="1.3" stroke-linecap="butt"/>
<line x1="505" y1="593.4" x2="512.5" y2="593.4" stroke-width="1.3" stroke-linecap="butt"/>
<line x1="565.4" y1="573.3" x2="565.4" y2="598.75" stroke-width="1.3" stroke-linecap="butt"/>
<line x1="561.65" y1="573.3" x2="569.15" y2="573.3" stroke-width="1.3" stroke-linecap="butt"/>
<line x1="561.65" y1="598.75" x2="569.15" y2="598.75" stroke-width="1.3" stroke-linecap="butt"/>
<line x1="612.5" y1="658.75" x2="612.5" y2="669.6" stroke-width="1.3" stroke-linecap="butt"/>
<line x1="608.75" y1="658.75" x2="616.25" y2="658.75" stroke-width="1.3" stroke-linecap="butt"/>
<line x1="608.75" y1="669.6" x2="616.25" y2="669.6" stroke-width="1.3" stroke-linecap="butt"/>
<polyline fill="none" stroke-width="2.25" stroke-linejoin="round" points="439.3,567.8 508.75,585.3 565.4,586 612.5,664.25"/>
<circle cx="439.3" cy="567.8" r="3.15" fill="#fff" stroke-width="1.5"/>
<circle cx="508.75" cy="585.3" r="3.15" fill="#fff" stroke-width="1.5"/>
<circle cx="565.4" cy="586" r="3.15" fill="#fff" stroke-width="1.5"/>
<circle cx="612.5" cy="664.25" r="3.15" fill="#fff" stroke-width="1.5"/>
</g>
<g id="panelH">
<g class="ax">
<line x1="391" y1="814.25" x2="391" y2="977.17" stroke-width="2.35" stroke-linecap="butt"/>
<line x1="389.82" y1="976" x2="633.45" y2="976" stroke-width="2.35" stroke-linecap="butt"/>
<line x1="385.32" y1="976" x2="391" y2="976" stroke-width="2.1" stroke-linecap="butt"/>
<text x="384.32" y="979.9" font-size="11" font-weight="bold" text-anchor="end" letter-spacing="0.15">0.00</text>
<line x1="385.32" y1="937" x2="391" y2="937" stroke-width="2.1" stroke-linecap="butt"/>
<text x="384.32" y="940.9" font-size="11" font-weight="bold" text-anchor="end" letter-spacing="0.15">0.25</text>
<line x1="385.32" y1="898" x2="391" y2="898" stroke-width="2.1" stroke-linecap="butt"/>
<text x="384.32" y="901.9" font-size="11" font-weight="bold" text-anchor="end" letter-spacing="0.15">0.50</text>
<line x1="385.32" y1="859" x2="391" y2="859" stroke-width="2.1" stroke-linecap="butt"/>
<text x="384.32" y="862.9" font-size="11" font-weight="bold" text-anchor="end" letter-spacing="0.15">0.75</text>
<line x1="385.32" y1="820" x2="391" y2="820" stroke-width="2.1" stroke-linecap="butt"/>
<text x="384.32" y="823.9" font-size="11" font-weight="bold" text-anchor="end" letter-spacing="0.15">1.00</text>
<line x1="391" y1="976" x2="391" y2="981.67" stroke-width="2.1" stroke-linecap="butt"/>
<text x="391.3" y="993.3" font-size="11" font-weight="bold" text-anchor="middle" letter-spacing="0.15">2.25</text>
<line x1="439.28" y1="976" x2="439.28" y2="981.67" stroke-width="2.1" stroke-linecap="butt"/>
<text x="439.58" y="993.3" font-size="11" font-weight="bold" text-anchor="middle" letter-spacing="0.15">2.00</text>
<line x1="487.56" y1="976" x2="487.56" y2="981.67" stroke-width="2.1" stroke-linecap="butt"/>
<text x="487.86" y="993.3" font-size="11" font-weight="bold" text-anchor="middle" letter-spacing="0.15">1.75</text>
<line x1="535.84" y1="976" x2="535.84" y2="981.67" stroke-width="2.1" stroke-linecap="butt"/>
<text x="536.14" y="993.3" font-size="11" font-weight="bold" text-anchor="middle" letter-spacing="0.15">1.50</text>
<line x1="584.12" y1="976" x2="584.12" y2="981.67" stroke-width="2.1" stroke-linecap="butt"/>
<text x="584.42" y="993.3" font-size="11" font-weight="bold" text-anchor="middle" letter-spacing="0.15">1.25</text>
<line x1="632.4" y1="976" x2="632.4" y2="981.67" stroke-width="2.1" stroke-linecap="butt"/>
<text x="632.7" y="993.3" font-size="11" font-weight="bold" text-anchor="middle" letter-spacing="0.15">1.00</text>
</g>
<text x="509.7" y="1011.6" font-size="12.7" font-weight="bold" text-anchor="middle" letter-spacing="0.02">Index of Stimulus Difficulty</text>
<text x="354.6" y="895.3" font-size="13.4" font-weight="bold" text-anchor="middle" transform="rotate(-90 354.6 895.3)" letter-spacing="0.04">Proportion Correct</text>
<text x="511.2" y="795.65" font-size="14.7" font-weight="bold" text-anchor="middle" letter-spacing="0.95">Mean</text>
<text x="368" y="806.6" font-size="29" font-weight="bold" text-anchor="start" stroke="none">H</text>
<line x1="431" y1="921" x2="454.3" y2="921" stroke-width="2.25" stroke-linecap="butt"/>
<rect x="439.35" y="917.75" width="6.5" height="6.5" fill="#000" stroke="none"/>
<text x="457.2" y="925.5" font-size="13" font-weight="normal" text-anchor="start" stroke="none" letter-spacing="0.12">Choice Test</text>
<line x1="431" y1="939.4" x2="454.3" y2="939.4" stroke-width="2.25" stroke-linecap="butt"/>
<circle cx="442.6" cy="939.4" r="3.15" fill="#fff" stroke-width="1.5"/>
<text x="457.2" y="943.9" font-size="13" font-weight="normal" text-anchor="start" stroke="none" letter-spacing="0.12">Forced Test</text>
<polyline fill="none" stroke-width="2.25" stroke-linejoin="round" points="439.3,825.6 508.75,832.5 565.4,847.6 612.5,863"/>
<rect x="436.05" y="822.35" width="6.5" height="6.5" fill="#000" stroke="none"/>
<rect x="505.5" y="829.25" width="6.5" height="6.5" fill="#000" stroke="none"/>
<rect x="562.15" y="844.35" width="6.5" height="6.5" fill="#000" stroke="none"/>
<rect x="609.25" y="859.75" width="6.5" height="6.5" fill="#000" stroke="none"/>
<polyline fill="none" stroke-width="2.25" stroke-linejoin="round" points="439.3,825.2 508.75,830 565.4,849.8 612.5,903"/>
<circle cx="439.3" cy="825.2" r="3.15" fill="#fff" stroke-width="1.5"/>
<circle cx="508.75" cy="830" r="3.15" fill="#fff" stroke-width="1.5"/>
<circle cx="565.4" cy="849.8" r="3.15" fill="#fff" stroke-width="1.5"/>
<circle cx="612.5" cy="903" r="3.15" fill="#fff" stroke-width="1.5"/>
</g>
</svg>
</body>
</html>
